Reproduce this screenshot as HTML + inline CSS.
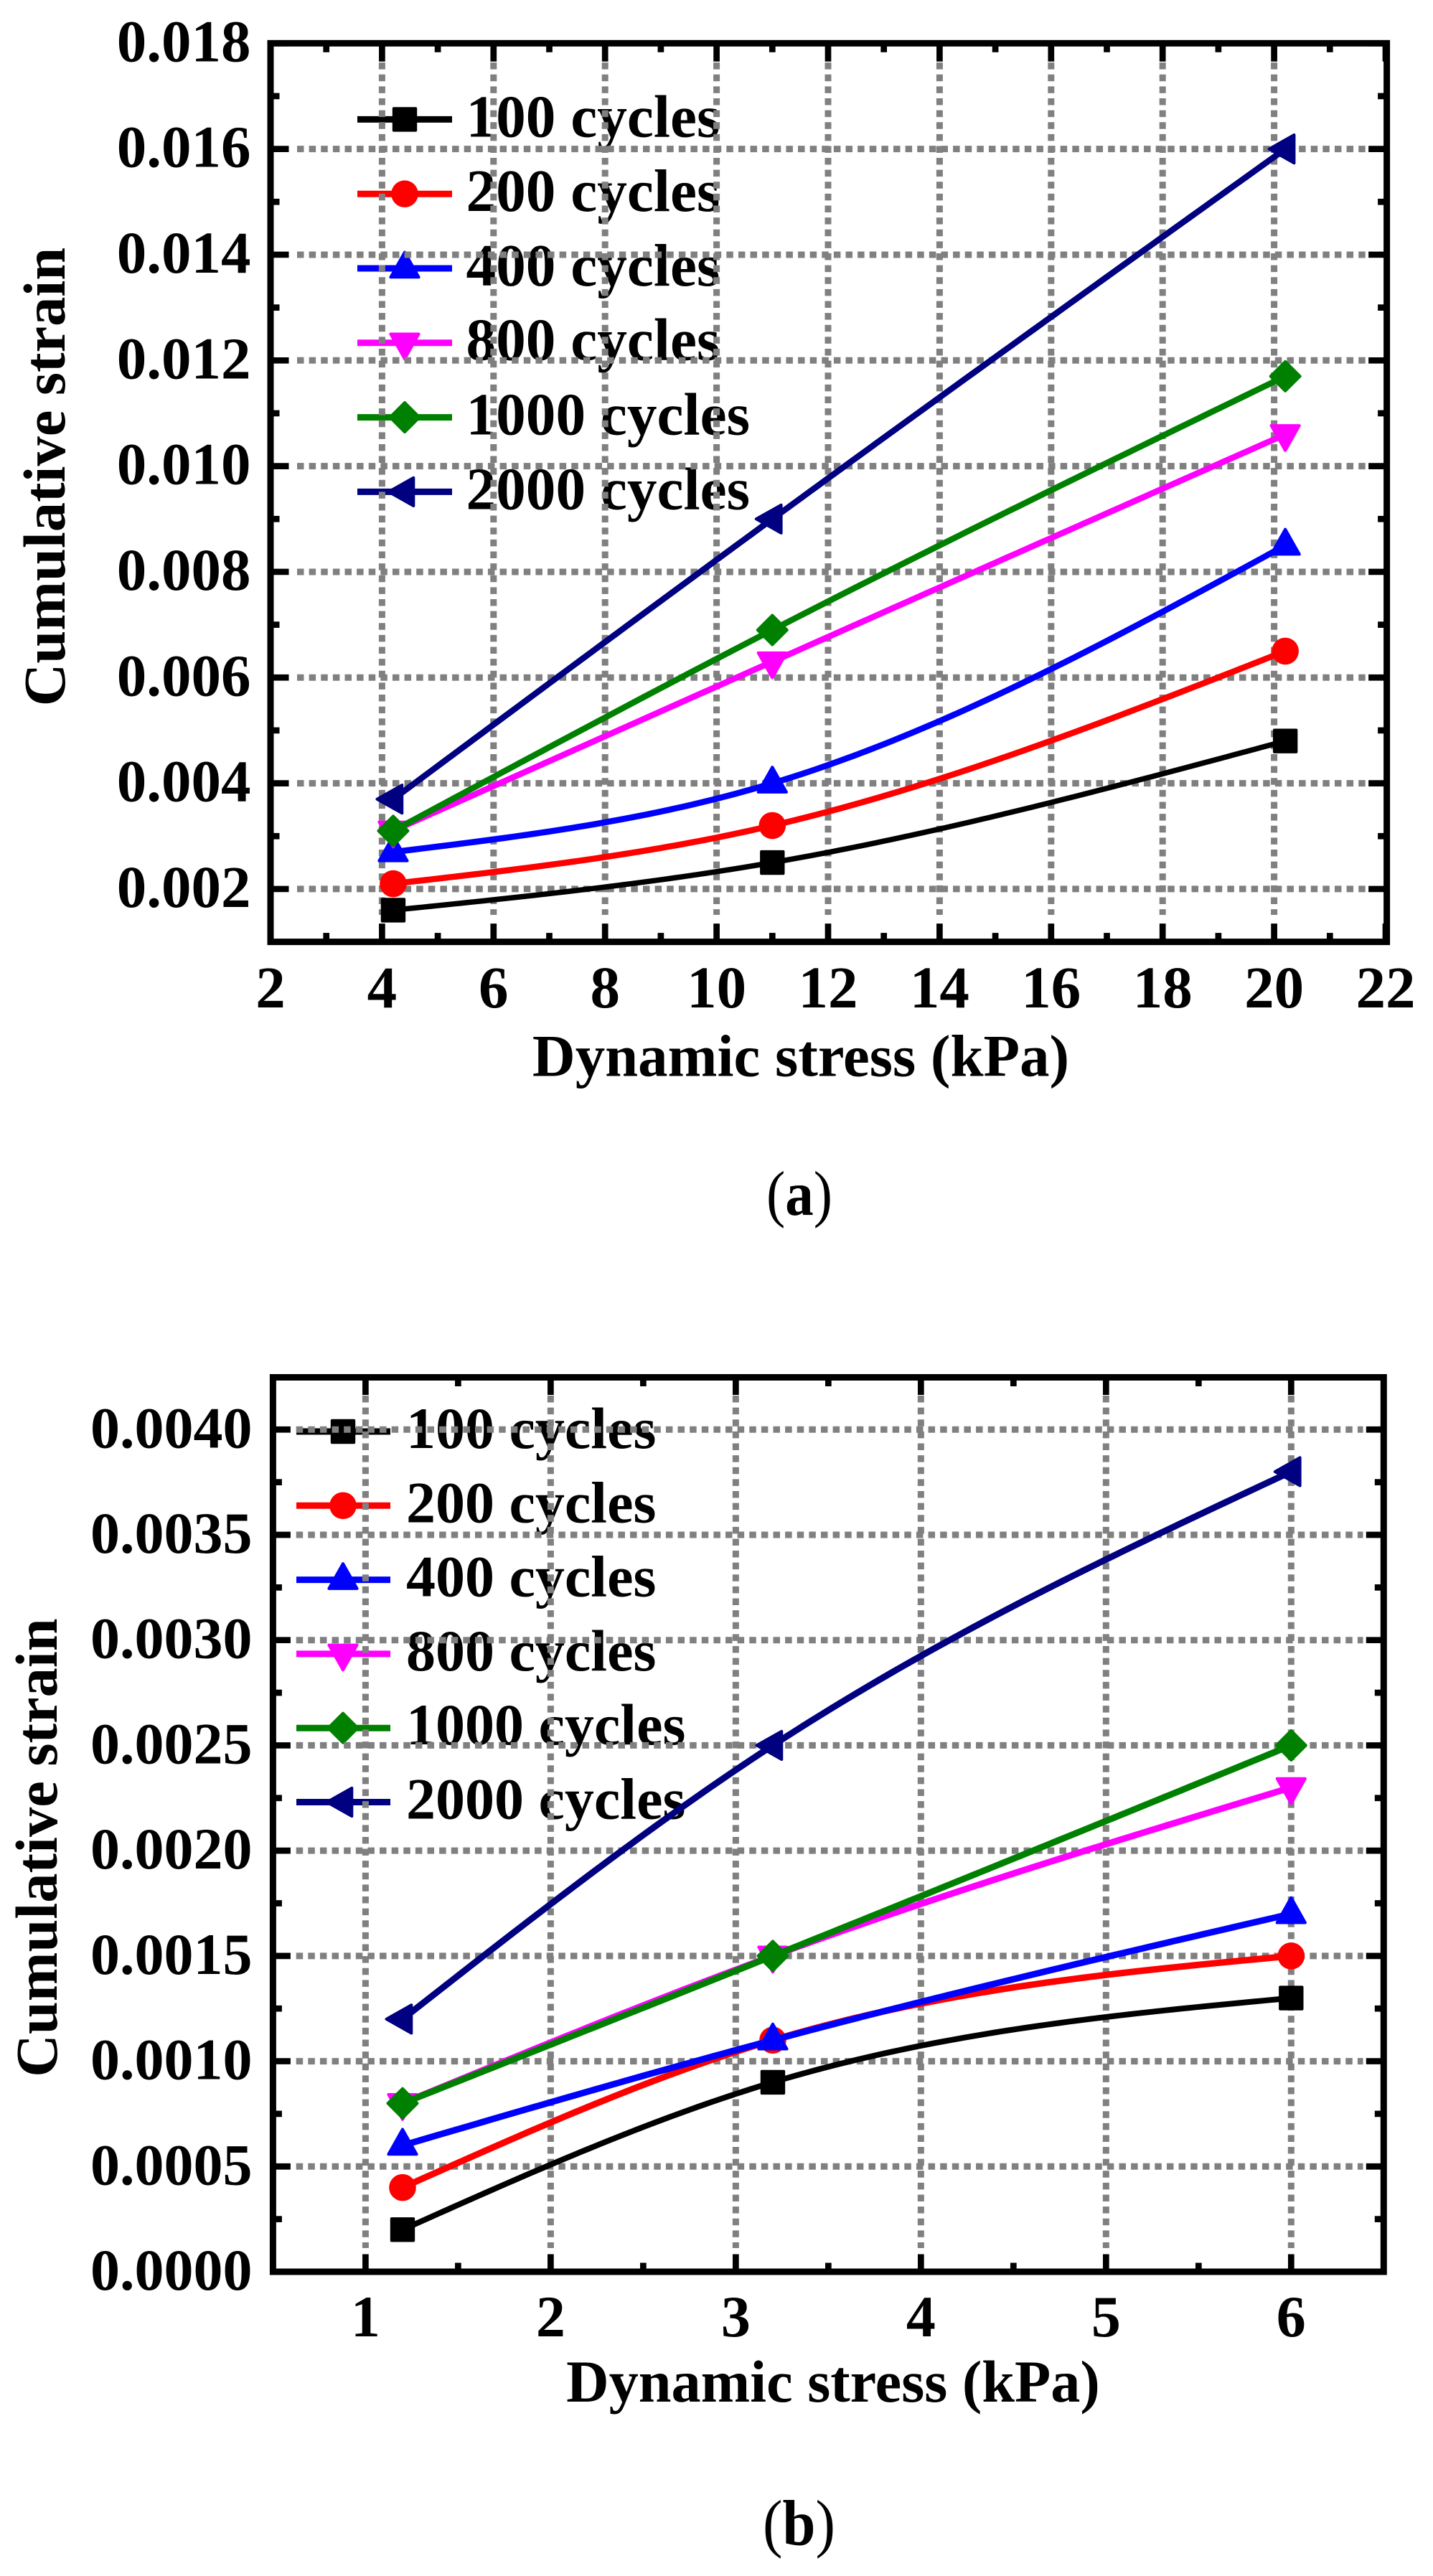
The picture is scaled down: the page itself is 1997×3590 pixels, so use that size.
<!DOCTYPE html>
<html lang="en">
<head>
<meta charset="utf-8">
<title>Cumulative strain versus dynamic stress</title>
<style>
html,body{margin:0;padding:0;background:#fff;}
svg{display:block;}
text{font-family:"Liberation Serif",serif;font-weight:bold;fill:#000;}
.thin{font-weight:normal;}
</style>
</head>
<body>
<svg id="figure" xmlns="http://www.w3.org/2000/svg" width="1997" height="3590" viewBox="0 0 1997 3590">
  <rect x="0" y="0" width="1997" height="3590" fill="#fff"/>
  <g id="panel-a"></g>
  <g id="panel-b"></g>
  <text transform="translate(90 664.5) rotate(-90)" text-anchor="middle" font-size="82.5">Cumulative strain</text>
  <text x="1116" y="1499.5" text-anchor="middle" font-size="82.8">Dynamic stress (kPa)</text>
  <text x="1068" y="1693" font-size="88" textLength="92" lengthAdjust="spacingAndGlyphs"><tspan class="thin">(</tspan>a<tspan class="thin">)</tspan></text>
  <text transform="translate(79 2575) rotate(-90)" text-anchor="middle" font-size="82.5">Cumulative strain</text>
  <text x="1161" y="3347" text-anchor="middle" font-size="82.3">Dynamic stress (kPa)</text>
  <text x="1063" y="3546.5" font-size="90" textLength="101" lengthAdjust="spacingAndGlyphs"><tspan class="thin">(</tspan>b<tspan class="thin">)</tspan></text>
</svg>
<script>
// ---------- shared data ----------
const seriesLabels = ['100 cycles', '200 cycles', '400 cycles', '800 cycles', '1000 cycles', '2000 cycles'];
const seriesColors = ['#000000', '#ff0000', '#0000ff', '#ff00ff', '#008000', '#000080'];
const seriesMarkers = ['square', 'circle', 'up', 'down', 'diamond', 'left'];

// ---------- panel (a) data ----------
const aStress = [4.2, 11, 20.2];
const aStrain100 = [0.0016, 0.0025, 0.0048];
const aStrain200 = [0.0021, 0.0032, 0.0065];
const aStrain400 = [0.0027, 0.0040, 0.0085];
const aStrain800 = [0.0031, 0.0063, 0.0106];
const aStrain1000 = [0.0031, 0.0069, 0.0117];
const aStrain2000 = [0.0037, 0.0090, 0.0160];
const aXDomain = [2, 22];
const aYDomain = [0.001, 0.018];
const aXTicks = [2, 4, 6, 8, 10, 12, 14, 16, 18, 20, 22];
const aXTickLabels = ['2', '4', '6', '8', '10', '12', '14', '16', '18', '20', '22'];
const aXMinorTicks = [3, 5, 7, 9, 11, 13, 15, 17, 19, 21];
const aYTicks = [0.002, 0.004, 0.006, 0.008, 0.010, 0.012, 0.014, 0.016, 0.018];
const aYTickLabels = ['0.002', '0.004', '0.006', '0.008', '0.010', '0.012', '0.014', '0.016', '0.018'];
const aYMinorTicks = [0.003, 0.005, 0.007, 0.009, 0.011, 0.013, 0.015, 0.017];
const aXGrid = [4, 6, 8, 10, 12, 14, 16, 18, 20];
const aYGrid = [0.002, 0.004, 0.006, 0.008, 0.010, 0.012, 0.014, 0.016];

// ---------- panel (b) data ----------
const bStress = [1.2, 3.2, 6];
const bStrain100 = [0.0002, 0.0009, 0.0013];
const bStrain200 = [0.0004, 0.0011, 0.0015];
const bStrain400 = [0.0006, 0.0011, 0.0017];
const bStrain800 = [0.0008, 0.0015, 0.0023];
const bStrain1000 = [0.0008, 0.0015, 0.0025];
const bStrain2000 = [0.0012, 0.0025, 0.0038];
const bXDomain = [0.5, 6.5];
const bYDomain = [0, 0.004248];
const bXTicks = [1, 2, 3, 4, 5, 6];
const bXTickLabels = ['1', '2', '3', '4', '5', '6'];
const bXMinorTicks = [1.5, 2.5, 3.5, 4.5, 5.5];
const bYTicks = [0, 0.0005, 0.001, 0.0015, 0.002, 0.0025, 0.003, 0.0035, 0.004];
const bYTickLabels = ['0.0000', '0.0005', '0.0010', '0.0015', '0.0020', '0.0025', '0.0030', '0.0035', '0.0040'];
const bYMinorTicks = [0.00025, 0.00075, 0.00125, 0.00175, 0.00225, 0.00275, 0.00325, 0.00375];
const bXGrid = [1, 2, 3, 4, 5, 6];
const bYGrid = [0.0005, 0.001, 0.0015, 0.002, 0.0025, 0.003, 0.0035, 0.004];

// ---------- drawing helpers ----------
const SVG_NS = 'http://www.w3.org/2000/svg';
const GRID_COLOR = '#808080';

function make(parent, tag, attrs) {
  const node = document.createElementNS(SVG_NS, tag);
  for (const key in attrs) node.setAttribute(key, attrs[key]);
  parent.appendChild(node);
  return node;
}

function naturalSpline(xs, ys) {
  const n = xs.length;
  const h = [];
  for (let i = 0; i < n - 1; i++) h.push(xs[i + 1] - xs[i]);
  const m = new Array(n).fill(0);
  const c = new Array(n).fill(0);
  const d = new Array(n).fill(0);
  for (let i = 1; i < n - 1; i++) {
    const rhs = 6 * ((ys[i + 1] - ys[i]) / h[i] - (ys[i] - ys[i - 1]) / h[i - 1]);
    const diag = 2 * (h[i - 1] + h[i]) - h[i - 1] * c[i - 1];
    c[i] = h[i] / diag;
    d[i] = (rhs - h[i - 1] * d[i - 1]) / diag;
  }
  for (let i = n - 2; i > 0; i--) m[i] = d[i] - c[i] * m[i + 1];
  return function (x) {
    let i = 0;
    while (i < n - 2 && x > xs[i + 1]) i++;
    const a = xs[i + 1] - x;
    const b = x - xs[i];
    return (m[i] * a * a * a + m[i + 1] * b * b * b) / (6 * h[i]) +
      (ys[i] / h[i] - m[i] * h[i] / 6) * a +
      (ys[i + 1] / h[i] - m[i + 1] * h[i] / 6) * b;
  };
}

function drawMarker(parent, kind, cx, cy, color) {
  let el;
  const style = { fill: color, stroke: color, 'stroke-width': 4, 'stroke-linejoin': 'round' };
  if (kind === 'square') {
    el = make(parent, 'rect', Object.assign({ x: cx - 15.2, y: cy - 15.2, width: 30.4, height: 30.4 }, style));
  } else if (kind === 'circle') {
    el = make(parent, 'circle', { cx: cx, cy: cy, r: 18.8, fill: color });
  } else {
    let pts;
    if (kind === 'up') pts = [[0, -22.5], [19.6, 12.3], [-19.6, 12.3]];
    if (kind === 'down') pts = [[0, 22.5], [19.6, -12.3], [-19.6, -12.3]];
    if (kind === 'left') pts = [[-22.5, 0], [12.3, -19.6], [12.3, 19.6]];
    if (kind === 'diamond') pts = [[0, -20.5], [20.5, 0], [0, 20.5], [-20.5, 0]];
    el = make(parent, 'polygon', Object.assign({
      points: pts.map(function (p) { return (cx + p[0]) + ',' + (cy + p[1]); }).join(' ')
    }, style));
  }
  return el;
}

function drawPanel(root, cfg) {
  const sx = function (v) { return cfg.left + (v - cfg.xDomain[0]) / (cfg.xDomain[1] - cfg.xDomain[0]) * (cfg.right - cfg.left); };
  const sy = function (v) { return cfg.bottom - (v - cfg.yDomain[0]) / (cfg.yDomain[1] - cfg.yDomain[0]) * (cfg.bottom - cfg.top); };

  // legend (lies beneath the grid in the reference)
  seriesLabels.forEach(function (label, i) {
    const ly = cfg.legendY + i * cfg.legendStep;
    const t = make(root, 'text', { x: cfg.legendTextX, y: cfg.legendTextY + i * cfg.legendStep, 'font-size': cfg.legendFont });
    t.textContent = label;
    
    
    const l = make(root, 'line', { x1: cfg.legendX1, x2: cfg.legendX2, y1: ly, y2: ly, stroke: seriesColors[i], 'stroke-width': 9 });
    
    
    const m = drawMarker(root, seriesMarkers[i], cfg.legendMarkerX, ly, seriesColors[i]);
    
    
  });

  // grid
  cfg.xGrid.forEach(function (v) {
    const g = make(root, 'line', { x1: sx(v), x2: sx(v), y1: cfg.gridTop, y2: cfg.gridBottom, stroke: GRID_COLOR, 'stroke-width': 9, 'stroke-dasharray': '9.5 7.12' });
    
    
  });
  cfg.yGrid.forEach(function (v) {
    const g = make(root, 'line', { x1: cfg.gridLeft, x2: cfg.gridRight, y1: sy(v), y2: sy(v), stroke: GRID_COLOR, 'stroke-width': 9, 'stroke-dasharray': '9.5 7.12' });
    
    
  });

  // ticks (all four sides, pointing inward)
  function xTick(v, len, name) {
    const x = sx(v);
    const t1 = make(root, 'line', { x1: x, x2: x, y1: cfg.bottom, y2: cfg.bottom - len, stroke: '#000', 'stroke-width': 8.7 });
    
    
    const t2 = make(root, 'line', { x1: x, x2: x, y1: cfg.top, y2: cfg.top + len, stroke: '#000', 'stroke-width': 8.7 });
    
    
  }
  function yTick(v, len, name) {
    const y = sy(v);
    const t1 = make(root, 'line', { x1: cfg.left, x2: cfg.left + len, y1: y, y2: y, stroke: '#000', 'stroke-width': 8.7 });
    
    
    const t2 = make(root, 'line', { x1: cfg.frameRight, x2: cfg.frameRight - len, y1: y, y2: y, stroke: '#000', 'stroke-width': 8.7 });
    
    
  }
  cfg.xTicks.forEach(function (v) { xTick(v, cfg.majorLen, 'x-major-tick'); });
  cfg.xMinor.forEach(function (v) { xTick(v, 12.5, 'x-minor-tick'); });
  cfg.yTicks.forEach(function (v) { yTick(v, cfg.majorLen, 'y-major-tick'); });
  cfg.yMinor.forEach(function (v) { yTick(v, 12.5, 'y-minor-tick'); });

  // frame
  const frame = make(root, 'rect', { x: cfg.left, y: cfg.top, width: cfg.frameRight - cfg.left, height: cfg.bottom - cfg.top, fill: 'none', stroke: '#000', 'stroke-width': 9 });
  
  

  // tick labels
  cfg.xTicks.forEach(function (v, i) {
    const t = make(root, 'text', { x: sx(v), y: cfg.xLabelY, 'text-anchor': 'middle', 'font-size': cfg.tickFont });
    t.textContent = cfg.xLabels[i];
    
    
  });
  cfg.yTicks.forEach(function (v, i) {
    const t = make(root, 'text', { x: cfg.yLabelX, y: sy(v) + 25, 'text-anchor': 'end', 'font-size': cfg.tickFont });
    t.textContent = cfg.yLabels[i];
    
    
  });

  // series
  cfg.series.forEach(function (values, i) {
    const curve = naturalSpline(cfg.stress, values);
    const x0 = cfg.stress[0];
    const x1 = cfg.stress[cfg.stress.length - 1];
    let d = '';
    for (let k = 0; k <= 120; k++) {
      const xv = x0 + (x1 - x0) * k / 120;
      d += (k ? 'L' : 'M') + sx(xv).toFixed(2) + ' ' + sy(curve(xv)).toFixed(2);
    }
    const path = make(root, 'path', { d: d, fill: 'none', stroke: seriesColors[i], 'stroke-width': i === 0 ? cfg.lineWidth - 1 : cfg.lineWidth, 'stroke-linejoin': 'round' });
    
    
    values.forEach(function (v, k) {
      const m = drawMarker(root, seriesMarkers[i], sx(cfg.stress[k]), sy(v), seriesColors[i]);
      
      
    });
  });
}

drawPanel(document.getElementById('panel-a'), {
  left: 377, right: 1931, frameRight: 1932.6, top: 60.3, bottom: 1312.6,
  xDomain: aXDomain, yDomain: aYDomain,
  xTicks: aXTicks, xLabels: aXTickLabels, xMinor: aXMinorTicks,
  yTicks: aYTicks, yLabels: aYTickLabels, yMinor: aYMinorTicks,
  xGrid: aXGrid, yGrid: aYGrid,
  gridLeft: 414, gridRight: 1903.5, gridTop: 87.1, gridBottom: 1275,
  xLabelY: 1404, yLabelX: 349.5,
  tickFont: 83, legendFont: 83.3,
  majorLen: 25.5, lineWidth: 8.5,
  legendX1: 498, legendX2: 630, legendMarkerX: 564, legendY: 166.4, legendStep: 103.8,
  legendTextX: 649.5, legendTextY: 190.3,
  stress: aStress,
  series: [aStrain100, aStrain200, aStrain400, aStrain800, aStrain1000, aStrain2000]
});

drawPanel(document.getElementById('panel-b'), {
  left: 380.4, right: 1928.3, frameRight: 1928.3, top: 1919.5, bottom: 3166,
  xDomain: bXDomain, yDomain: bYDomain,
  xTicks: bXTicks, xLabels: bXTickLabels, xMinor: bXMinorTicks,
  yTicks: bYTicks, yLabels: bYTickLabels, yMinor: bYMinorTicks,
  xGrid: bXGrid, yGrid: bYGrid,
  gridLeft: 412.7, gridRight: 1899.5, gridTop: 1945, gridBottom: 3133,
  xLabelY: 3256, yLabelX: 351.5,
  tickFont: 82, legendFont: 82,
  majorLen: 24.5, lineWidth: 9,
  legendX1: 413, legendX2: 544, legendMarkerX: 478, legendY: 1995, legendStep: 103.3,
  legendTextX: 566, legendTextY: 2018,
  stress: bStress,
  series: [bStrain100, bStrain200, bStrain400, bStrain800, bStrain1000, bStrain2000]
});
</script>
</body>
</html>
